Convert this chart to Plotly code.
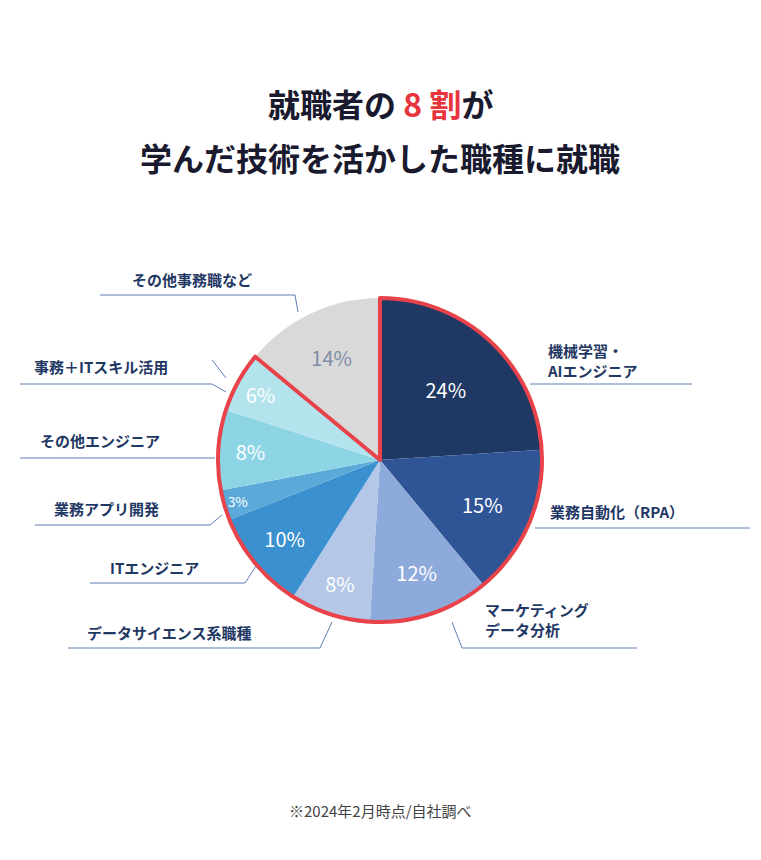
import plotly.graph_objects as go

# data
labels = ["機械学習・AIエンジニア", "業務自動化（RPA）", "マーケティング データ分析",
          "データサイエンス系職種", "ITエンジニア", "業務アプリ開発",
          "その他エンジニア", "事務＋ITスキル活用", "その他事務職など"]
values = [24, 15, 12, 8, 10, 3, 8, 6, 14]
colors = ["#1f3864", "#2f5597", "#8eaadb", "#b4c7e7", "#3b91d0",
          "#5aa9d8", "#8dd5e4", "#b3e3ec", "#d9d9d9"]
text_colors = ["white", "white", "white", "white", "white", "white", "white", "white", "#7f8fa6"]
group_values = [86, 14]

W, H = 761, 860
OFF = 8  # page body margin
FONT = "Noto Sans CJK JP"
NAVY = "#1f3864"
LINE = "#5f7fb5"


def px(x):
    return (x - OFF) / W


def py(y):
    return 1 - (y - OFF) / H


dom = dict(x=[px(218), px(542)], y=[py(622), py(298)])

fig = go.Figure()
fig.add_trace(go.Pie(
    values=values, labels=labels, sort=False, direction="clockwise", rotation=0,
    marker=dict(colors=colors, line=dict(color="white", width=0)),
    text=[f"{v}%" for v in values], textinfo="text", textposition="inside",
    insidetextorientation="horizontal",
    textfont=dict(family=FONT, size=20, color=text_colors),
    domain=dom, showlegend=False, hoverinfo="skip"))
# red outline around the engineering/IT group
fig.add_trace(go.Pie(
    values=group_values, sort=False, direction="clockwise", rotation=0,
    marker=dict(colors=["rgba(0,0,0,0)", "rgba(0,0,0,0)"],
                line=dict(color=["#e8434b", "rgba(0,0,0,0)"], width=[4, 0])),
    textinfo="none", domain=dom, showlegend=False, hoverinfo="skip"))

ann = []
shapes = []


def label(txt, x, y, anchor="left", size=15):
    ann.append(dict(text=txt, x=px(x), y=py(y), xref="paper", yref="paper",
                    xanchor=anchor, yanchor="middle", showarrow=False, align="left",
                    font=dict(family=FONT, size=size, color=NAVY, weight="bold")))


def seg(x0, y0, x1, y1):
    shapes.append(dict(type="line", xref="paper", yref="paper",
                       x0=px(x0), y0=py(y0), x1=px(x1), y1=py(y1),
                       line=dict(color=LINE, width=1)))


label("その他事務職など", 130, 280)
seg(100, 295, 295, 295); seg(295, 295, 298, 312)
label("機械学習・<br>AIエンジニア", 545, 360)
seg(530, 384, 692, 384)
label("業務自動化（RPA）", 548, 511)
seg(535, 528, 750, 528)
label("マーケティング<br>データ分析", 483, 619)
seg(462, 648, 637, 648); seg(462, 648, 452, 622)
label("データサイエンス系職種", 85, 632)
seg(68, 648, 320, 648); seg(320, 648, 332, 622)
label("ITエンジニア", 108, 567)
seg(90, 583, 245, 583); seg(245, 583, 256, 566)
label("業務アプリ開発", 52, 508)
seg(35, 525, 210, 525); seg(210, 525, 222, 515)
label("その他エンジニア", 38, 440)
seg(20, 458, 215, 458)
label("事務＋ITスキル活用", 32, 367)
seg(20, 384, 212, 384); seg(212, 384, 226, 392); seg(212, 360, 226, 378)

cx = (W / 2 - 1 + 8 - OFF) / W
ann.append(dict(text="就職者の <span style='color:#e8343c'>8 割</span>が", x=px(380), y=py(103),
                xref="paper", yref="paper", showarrow=False, yanchor="middle",
                font=dict(family=FONT, size=32, color="#1a1a2e", weight="bold")))
ann.append(dict(text="学んだ技術を活かした職種に就職", x=px(380), y=py(157),
                xref="paper", yref="paper", showarrow=False, yanchor="middle",
                font=dict(family=FONT, size=32, color="#1a1a2e", weight="bold")))
ann.append(dict(text="※2024年2月時点/自社調べ", x=px(380), y=py(810),
                xref="paper", yref="paper", showarrow=False, yanchor="middle",
                font=dict(family=FONT, size=15, color="#444444")))

fig.update_layout(width=W, height=H, margin=dict(l=0, r=0, t=0, b=0),
                  paper_bgcolor="white", plot_bgcolor="white",
                  annotations=ann, shapes=shapes)
fig.write_html("out.html")
